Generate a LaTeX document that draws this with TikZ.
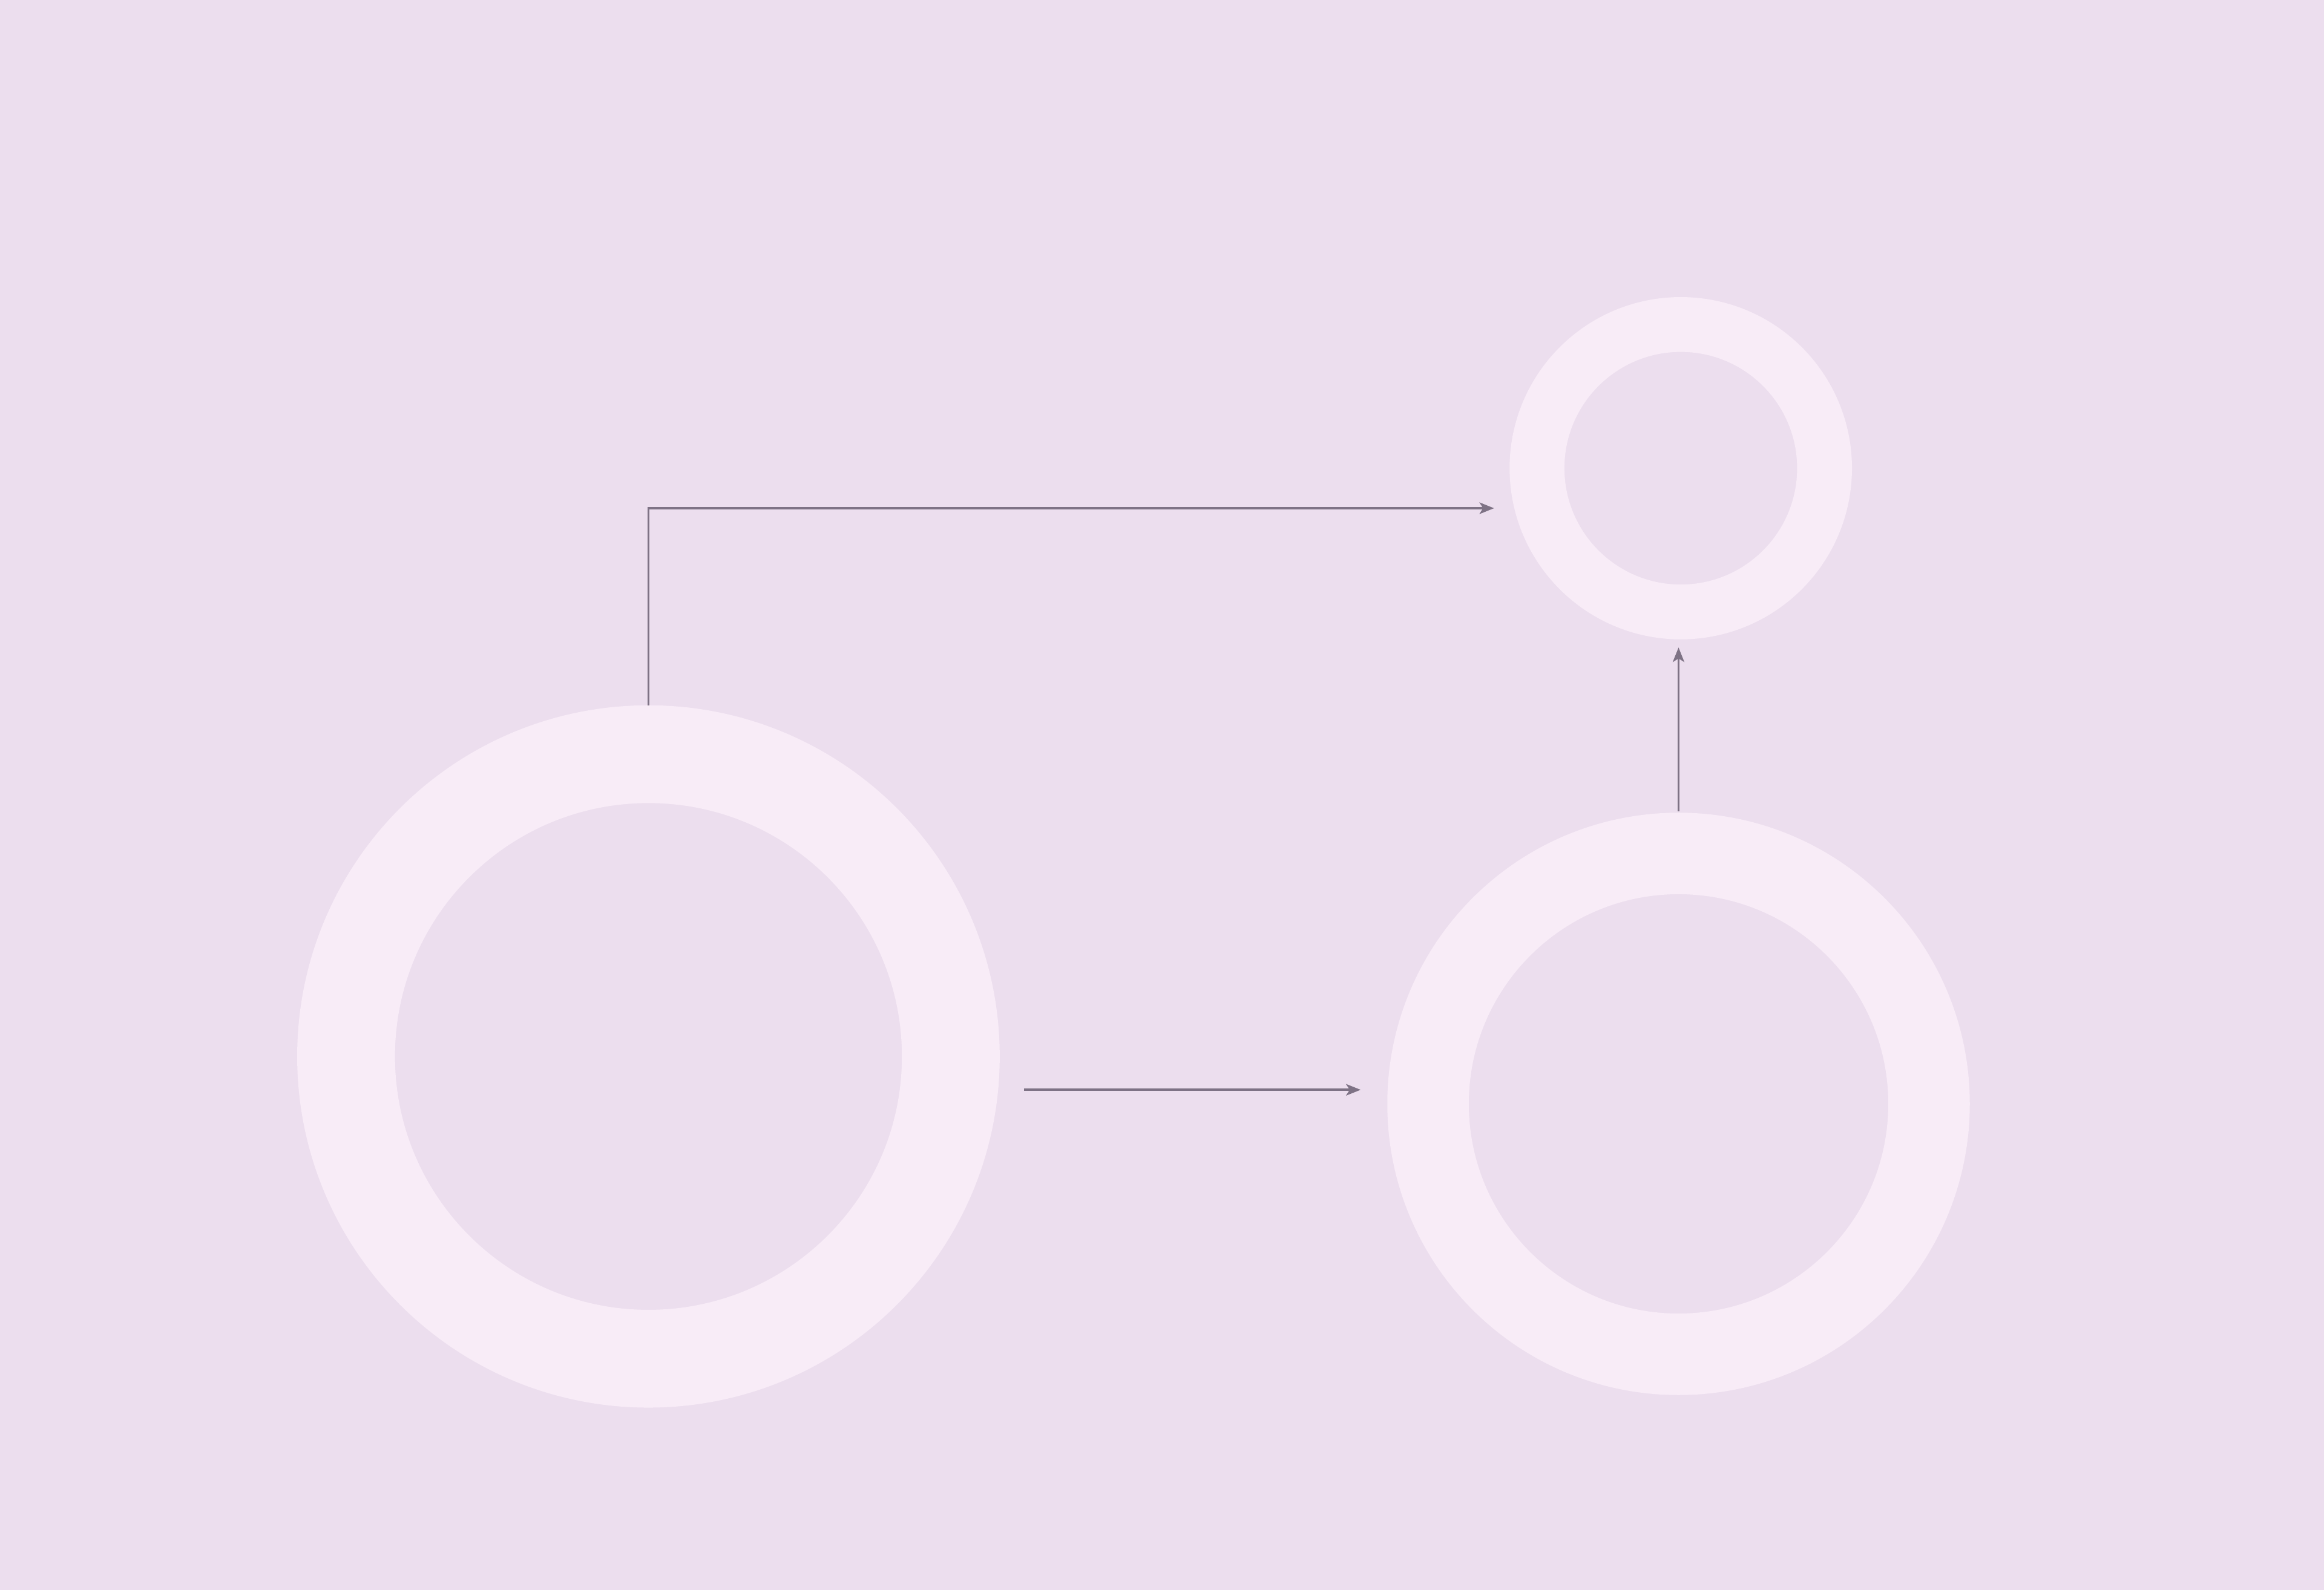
\documentclass[tikz,border=0pt]{standalone}
\usetikzlibrary{arrows.meta,calc}
\definecolor{bg}{HTML}{ECDEEE}
\definecolor{ringc}{HTML}{F8ECF7}
\definecolor{linec}{HTML}{7E7285}
\begin{document}
\begin{tikzpicture}[x=0.024490cm, y=-0.024490cm,
  ring/.style={circle, draw=ringc, fill=none, inner sep=0pt},
  conn/.style={draw=linec, line width=0.035cm, -{Stealth[length=0.24cm,width=0.19cm,inset=0.06cm]}}]
  \fill[bg] (0,0) rectangle (1568,1073);
  \useasboundingbox (0,0) rectangle (1568,1073);
  % rings
  \node[ring, line width=1.616cm, minimum size=9.992cm] (A) at (437.5,713) {};
  \node[ring, line width=1.347cm, minimum size=8.278cm] (B) at (1132.5,745) {};
  \node[ring, line width=0.906cm, minimum size=4.751cm] (C) at (1134,316) {};
  % free ends
  \coordinate (pC) at (1008,343);
  \coordinate (p2s) at (691,735.5);
  \coordinate (p2e) at (918,735.5);
  \coordinate (p3s) at (1132.5,547.5);
  \coordinate (p3e) at (1132.5,437);
  % connectors
  \draw[conn] (A.north) |- (pC);
  \draw[conn] (p2s) -- (p2e);
  \draw[conn] (p3s) -- (p3e);
\end{tikzpicture}
\end{document}
